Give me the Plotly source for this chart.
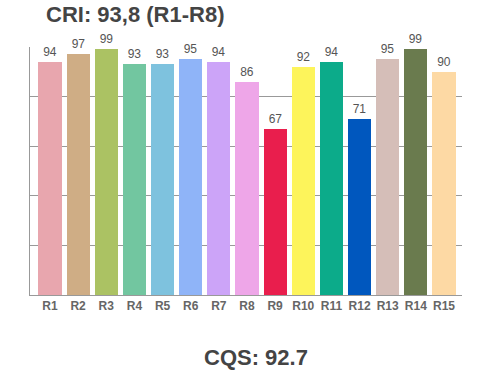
import plotly.graph_objects as go

categories = ["R1", "R2", "R3", "R4", "R5", "R6", "R7", "R8", "R9", "R10", "R11", "R12", "R13", "R14", "R15"]
values = [94, 97, 99, 93, 93, 95, 94, 86, 67, 92, 94, 71, 95, 99, 90]
colors = ["#E8A6AE", "#CFAD85", "#ABC263", "#72C6A0", "#7EC2DE", "#8FB4F8", "#CCA4F8", "#EEA6E8",
          "#E91E4D", "#FDF45B", "#0CAB8A", "#0057BE", "#D5BEB8", "#6A7B4E", "#FDD9A4"]
title_top = "CRI: 93,8 (R1-R8)"
title_bottom = "CQS: 92.7"

W, H = 500, 370
L, R, T, B = 30, 38, 47, 75
PW, PH = W - L - R, H - T - B

def px_to_paper(px, py):
    return (px - L) / PW, (H - B - py) / PH

fig = go.Figure(go.Bar(
    x=list(range(len(categories))),
    y=values,
    marker=dict(color=colors, line=dict(width=0)),
    width=0.82,
    text=[str(v) for v in values],
    textposition="outside",
    textfont=dict(family="Liberation Sans, Arial, sans-serif", size=12, color="#555555"),
    cliponaxis=False,
))

fig.update_layout(
    width=W, height=H,
    margin=dict(l=L, r=R, t=T, b=B, autoexpand=False),
    paper_bgcolor="white", plot_bgcolor="white",
    showlegend=False,
    bargap=0,
    xaxis=dict(
        range=[-0.71, 14.64],
        tickmode="array",
        tickvals=list(range(len(categories))),
        ticktext=["<b>%s</b>" % c for c in categories],
        tickfont=dict(family="Liberation Sans, Arial, sans-serif", size=12, color="#666666"),
        showline=True, linecolor="#999999", linewidth=1,
        showgrid=False, ticks="", ticklen=0,
        fixedrange=True, automargin=False,
    ),
    yaxis=dict(
        range=[0, 100],
        tickvals=[0, 20, 40, 60, 80, 100],
        showticklabels=False,
        showgrid=True, gridcolor="#999999", gridwidth=1,
        showline=True, linecolor="#999999", linewidth=1,
        zeroline=False, ticks="",
        fixedrange=True, automargin=False,
    ),
)

x1, y1 = px_to_paper(135, 15)
fig.add_annotation(
    text="<b>%s</b>" % title_top, xref="paper", yref="paper",
    x=x1, y=y1, xanchor="center", yanchor="middle",
    showarrow=False, font=dict(family="Liberation Sans, Arial, sans-serif", size=22, color="#444444"),
)
x2, y2 = px_to_paper(256, 357)
fig.add_annotation(
    text="<b>%s</b>" % title_bottom, xref="paper", yref="paper",
    x=x2, y=y2, xanchor="center", yanchor="middle",
    showarrow=False, font=dict(family="Liberation Sans, Arial, sans-serif", size=22, color="#444444"),
)

fig.write_html("out.html", config={"displayModeBar": False},
               post_script="document.body.style.margin='0';document.body.style.padding='0';")
